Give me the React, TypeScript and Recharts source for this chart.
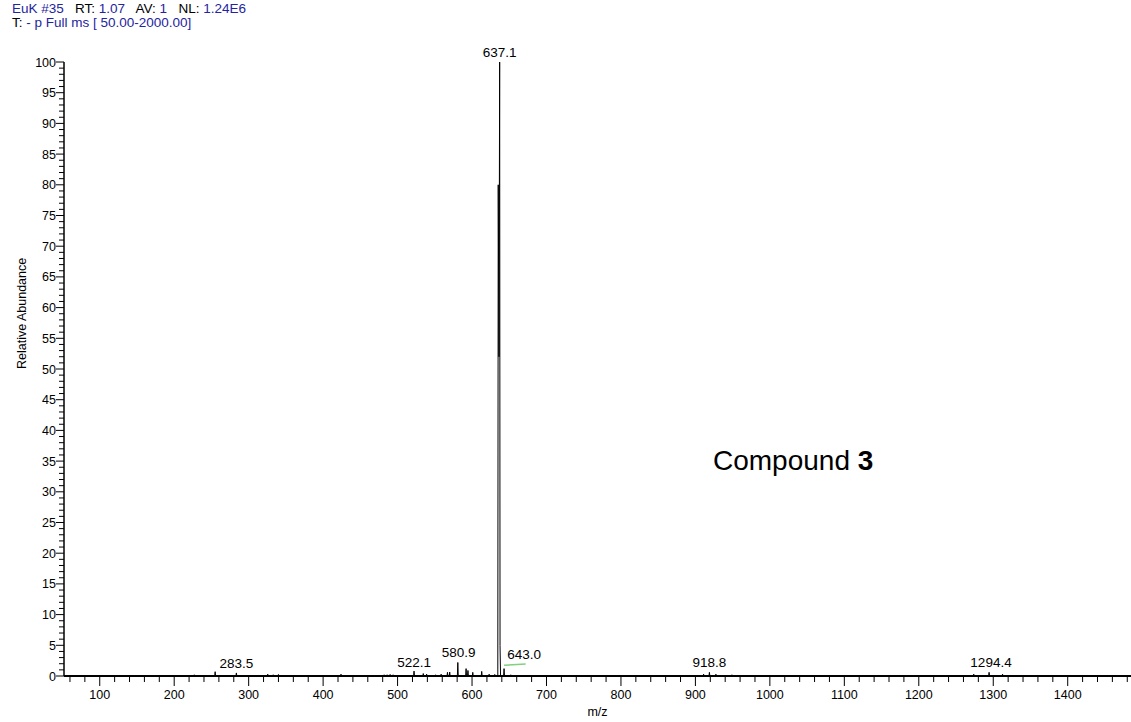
import React from 'react';
import { ComposedChart, Line, XAxis, YAxis, Scatter, ReferenceLine } from 'recharts';

// centroid sticks (m/z, relative abundance %)
const peakMz = [
  227, 255, 283.5, 325.6, 333, 340, 407, 424, 465, 482, 486, 490, 494, 503,
  522.1, 534.5, 539, 551, 558.5, 567, 570, 580.9, 592, 594.5, 601, 613, 623, 630.5,
  643.0, 652, 660, 690.5, 731, 742, 783.5, 911, 918.8, 927.5, 949,
  1273.8, 1294.4, 1312.5,
];
const peakRel = [
  0.2, 0.7, 0.5, 0.3, 0.2, 0.25, 0.1, 0.3, 0.1, 0.2, 0.2, 0.25, 0.2, 0.15,
  0.8, 0.4, 0.3, 0.2, 0.3, 0.6, 0.65, 2.2, 1.2, 0.9, 0.6, 0.75, 0.3, 0.25,
  1.2, 0.2, 0.15, 0.1, 0.15, 0.15, 0.1, 0.3, 0.6, 0.3, 0.2,
  0.3, 0.6, 0.3,
];

// profile of the base peak
const basePeakMz = [634.6, 635.2, 636.2, 637.1, 637.6, 638.3];
const basePeakRel = [0, 80, 52, 100, 5, 0];

// peak annotations: text, where the label sits (m/z) and the height it sits on
const labelText = ['283.5', '522.1', '580.9', '637.1', '643.0', '918.8', '1294.4'];
const labelMz = [283.5, 522.1, 582, 637.1, 670, 918.8, 1297];
const labelRel = [0.5, 0.6, 2.2, 100, 1.9, 0.6, 0.6];

const xDomain = [52, 1485];
const xTicks = Array.from({ length: 72 }, (_, i) => 60 + i * 20);
const yTicks = Array.from({ length: 101 }, (_, i) => i);

const buildSpectrum = () => {
  const pts: { mz: number; rel: number }[] = [];
  peakMz.forEach((mz, i) => {
    pts.push({ mz: mz - 0.6, rel: 0 }, { mz, rel: peakRel[i] }, { mz: mz + 0.6, rel: 0 });
  });
  basePeakMz.forEach((mz, i) => pts.push({ mz, rel: basePeakRel[i] }));
  pts.push({ mz: xDomain[0], rel: 0 }, { mz: xDomain[1], rel: 0 });
  return pts.sort((a, b) => a.mz - b.mz);
};

const spectrum = buildSpectrum();
const labels = labelText.map((t, i) => ({ mz: labelMz[i], rel: labelRel[i], text: t }));

const FONT = '"Liberation Sans", Arial, sans-serif';
const BLUE = '#2424a0';

const YTick = (props: any) => {
  const { x, y, payload } = props;
  const major = payload.value % 5 === 0;
  return (
    <g>
      <line x1={x - (major ? 8 : 5)} x2={x} y1={y} y2={y} stroke="#000" strokeWidth={1} />
      {major && (
        <text x={x - 8} y={y} dy={4.5} textAnchor="end" fontSize={12.5} fontFamily={FONT} fill="#000">
          {payload.value}
        </text>
      )}
    </g>
  );
};

const XTick = (props: any) => {
  const { x, y, payload } = props;
  const major = payload.value % 100 === 0;
  return (
    <g>
      <line x1={x} x2={x} y1={y} y2={y + (major ? 10 : 6)} stroke="#000" strokeWidth={1} />
      {major && (
        <text x={x} y={y + 23} textAnchor="middle" fontSize={12.5} fontFamily={FONT} fill="#000">
          {payload.value}
        </text>
      )}
    </g>
  );
};

const PeakLabel = (props: any) => {
  const { cx, cy, payload } = props;
  return (
    <text x={cx} y={cy - 5} textAnchor="middle" fontSize={13.5} fontFamily={FONT} fill="#000">
      {payload.text}
    </text>
  );
};

const App = () => {
  return (
    <div style={{ position: 'absolute', left: 0, top: 0, width: 1131, height: 722, fontFamily: FONT, background: '#fff' }}>
      <ComposedChart width={1131} height={722} data={spectrum} margin={{ top: 62, right: 0, left: 0, bottom: 0 }}>
        <XAxis
          dataKey="mz"
          type="number"
          domain={xDomain}
          ticks={xTicks}
          interval={0}
          allowDataOverflow
          height={46}
          tickSize={0}
          tickMargin={0}
          tickLine={false}
          tick={<XTick />}
          axisLine={{ stroke: '#000', strokeWidth: 2 }}
          label={{ value: 'm/z', position: 'insideBottom', offset: 6, fontSize: 12.5, fill: '#000' }}
        />
        <YAxis
          type="number"
          domain={[0, 100]}
          ticks={yTicks}
          interval={0}
          width={64}
          tickSize={0}
          tickMargin={0}
          tickLine={false}
          tick={<YTick />}
          axisLine={{ stroke: '#000', strokeWidth: 1.5 }}
          label={{ value: 'Relative Abundance', angle: -90, position: 'insideLeft', offset: 22, fontSize: 12.5, fill: '#000' }}
        />
        <Line
          dataKey="rel"
          type="linear"
          stroke="#000"
          strokeWidth={1}
          dot={false}
          activeDot={false}
          isAnimationActive={false}
        />
        <ReferenceLine
          segment={[{ x: 643, y: 1.75 }, { x: 672, y: 1.95 }]}
          stroke="#7fd07f"
          strokeWidth={1.5}
        />
        <Scatter data={labels} dataKey="rel" shape={<PeakLabel />} isAnimationActive={false} />
      </ComposedChart>

      <div style={{ position: 'absolute', left: 12, top: 2, fontSize: 13.5, lineHeight: '14px', whiteSpace: 'pre' }}>
        <div>
          <span style={{ color: BLUE }}>EuK #35</span>
          <span>   RT: </span>
          <span style={{ color: BLUE }}>1.07</span>
          <span>   AV: </span>
          <span style={{ color: BLUE }}>1</span>
          <span>   NL: </span>
          <span style={{ color: BLUE }}>1.24E6</span>
        </div>
        <div>
          <span>T: </span>
          <span style={{ color: BLUE }}>- p Full ms [ 50.00-2000.00]</span>
        </div>
      </div>

      <div style={{ position: 'absolute', left: 713, top: 443, fontSize: 28, lineHeight: '36px', whiteSpace: 'pre' }}>
        Compound <b>3</b>
      </div>
    </div>
  );
};

export default App;
